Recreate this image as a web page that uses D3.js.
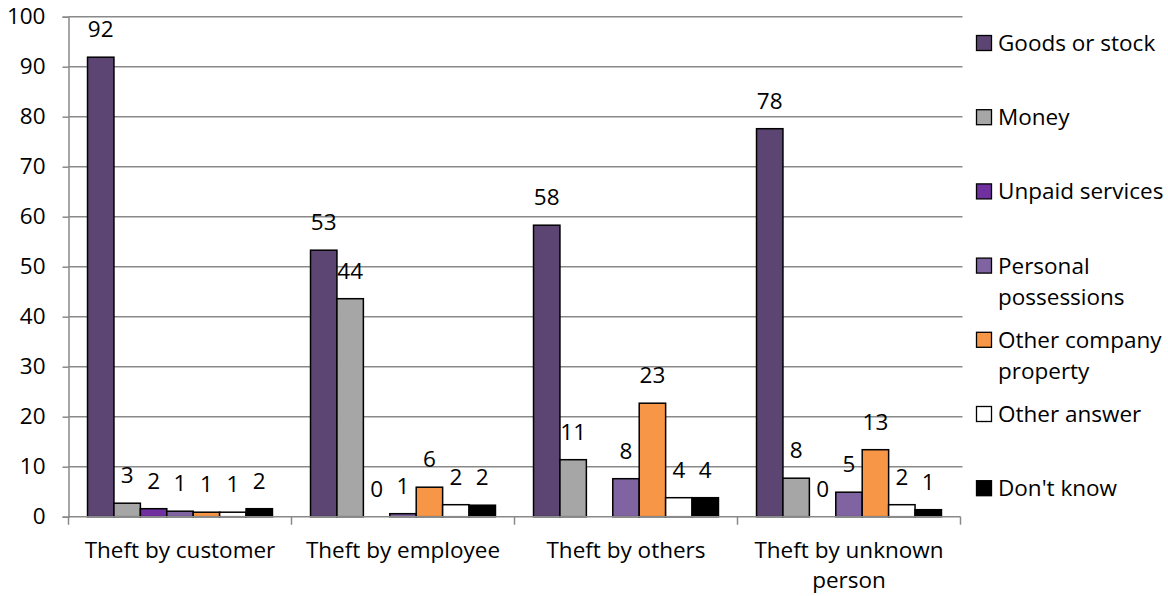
<!DOCTYPE html>
<html>
<head>
<meta charset="utf-8">
<script src="https://cdn.jsdelivr.net/npm/d3@7"></script>
<style>
  html, body { margin: 0; padding: 0; background: #fff; }
  svg { display: block; }
  text { font-family: "Open Sans", "Noto Sans", sans-serif; fill: #000; }
</style>
</head>
<body>
<svg id="chart" width="1168" height="596"></svg>
<script>
// Where theft happened and what was taken (% of incidents)
const categories = ["Theft by customer", "Theft by employee", "Theft by others", "Theft by unknown person"];
const seriesNames = ["Goods or stock", "Money", "Unpaid services", "Personal possessions",
                     "Other company property", "Other answer", "Don't know"];
const goodsOrStock   = [91.9, 53.3, 58.3, 77.6];
const money          = [2.7, 43.6, 11.4, 7.7];
const unpaidServices = [1.6, 0, null, 0];
const personalPoss   = [1.1, 0.6, 7.6, 4.9];
const otherCompany   = [0.9, 5.9, 22.7, 13.4];
const otherAnswer    = [0.9, 2.4, 3.8, 2.4];
const dontKnow       = [1.6, 2.3, 3.8, 1.4];
const yTicks = [0, 10, 20, 30, 40, 50, 60, 70, 80, 90, 100];

const seriesValues = [goodsOrStock, money, unpaidServices, personalPoss, otherCompany, otherAnswer, dontKnow];
const colors = ["#5C4573", "#A6A6A6", "#7030A0", "#8064A2", "#F79646", "#FFFFFF", "#000000"];
const legendLines = [["Goods or stock"], ["Money"], ["Unpaid services"], ["Personal", "possessions"],
                     ["Other company", "property"], ["Other answer"], ["Don't know"]];

const svg = d3.select("#chart");
const plotLeft = 68.5, plotRight = 960.5, plotTop = 16.7, plotBottom = 516.7;
const fs = 22.5;
const gridColor = "#898989";

const y = d3.scaleLinear().domain([0, 100]).range([plotBottom, plotTop]);
const x0 = d3.scaleBand().domain(categories).range([plotLeft, plotRight]).paddingInner(0).paddingOuter(0);
const x1 = d3.scaleBand().domain(seriesNames).range([0, x0.bandwidth()]).paddingInner(0).paddingOuter(0.72);

// gridlines
svg.append("g").selectAll("line").data(yTicks.filter(d => d > 0)).join("line")
  .attr("x1", plotLeft).attr("x2", plotRight + 2)
  .attr("y1", d => y(d)).attr("y2", d => y(d))
  .attr("stroke", gridColor).attr("stroke-width", 1.5);

// y axis
const yAxis = svg.append("g").attr("transform", `translate(${plotLeft},0)`)
  .call(d3.axisLeft(y).tickValues(yTicks).tickSize(6).tickPadding(17).tickFormat(d3.format("d")));
yAxis.select(".domain").attr("stroke", gridColor).attr("stroke-width", 1.5);
yAxis.selectAll(".tick line").attr("stroke", gridColor).attr("stroke-width", 1.5);
yAxis.selectAll(".tick text").attr("font-size", fs).attr("font-family", "Open Sans").attr("fill", "#000");

// bars
const rows = categories.map((c, i) => ({ cat: c, vals: seriesNames.map((s, j) => ({ s, j, v: seriesValues[j][i] })) }));
const groups = svg.append("g").selectAll("g").data(rows).join("g")
  .attr("transform", d => `translate(${x0(d.cat)},0)`);

groups.selectAll("rect").data(d => d.vals.filter(e => e.v !== null && e.v > 0)).join("rect")
  .attr("x", d => x1(d.s)).attr("width", x1.bandwidth())
  .attr("y", d => y(d.v)).attr("height", d => y(0) - y(d.v))
  .attr("fill", d => colors[d.j]).attr("stroke", "#000").attr("stroke-width", 1.5);

// value labels
groups.selectAll("text.val").data(d => d.vals.filter(e => e.v !== null)).join("text")
  .attr("class", "val")
  .attr("x", d => x1(d.s) + x1.bandwidth() / 2)
  .attr("y", d => y(d.v) - 20)
  .attr("text-anchor", "middle").attr("font-size", fs)
  .text(d => d3.format(".0f")(d.v));

// x axis
svg.append("line").attr("x1", plotLeft).attr("x2", plotRight).attr("y1", plotBottom).attr("y2", plotBottom)
  .attr("stroke", gridColor).attr("stroke-width", 1.5);
const bounds = categories.map(c => x0(c)).concat([plotRight]);
svg.append("g").selectAll("line").data(bounds).join("line")
  .attr("x1", d => d).attr("x2", d => d).attr("y1", plotBottom).attr("y2", plotBottom + 8)
  .attr("stroke", gridColor).attr("stroke-width", 1.5);

// category labels with word wrap
const measure = svg.append("text").attr("font-size", fs).attr("visibility", "hidden");
function wrap(str, maxW) {
  const words = str.split(" ");
  const lines = [];
  let cur = "";
  words.forEach(w => {
    const t = cur ? cur + " " + w : w;
    measure.text(t);
    if (measure.node().getComputedTextLength() > maxW && cur) { lines.push(cur); cur = w; }
    else cur = t;
  });
  lines.push(cur);
  return lines;
}
categories.forEach(c => {
  const lines = wrap(c, x0.bandwidth() - 6);
  const t = svg.append("text").attr("text-anchor", "middle").attr("font-size", fs);
  lines.forEach((l, k) => {
    t.append("tspan").attr("x", x0(c) + x0.bandwidth() / 2).attr("y", 558 + k * 30).text(l);
  });
});
measure.remove();

// legend
const lg = svg.append("g");
legendLines.forEach((lines, i) => {
  const cy = 43 + i * 74.2;
  lg.append("rect").attr("x", 976.5).attr("y", cy - 7.5).attr("width", 15).attr("height", 15)
    .attr("fill", colors[i]).attr("stroke", "#000").attr("stroke-width", 1.3);
  const t = lg.append("text").attr("font-size", fs);
  lines.forEach((l, k) => {
    t.append("tspan").attr("x", 998).attr("y", cy + 8 + k * 31).text(l);
  });
});
</script>
</body>
</html>
